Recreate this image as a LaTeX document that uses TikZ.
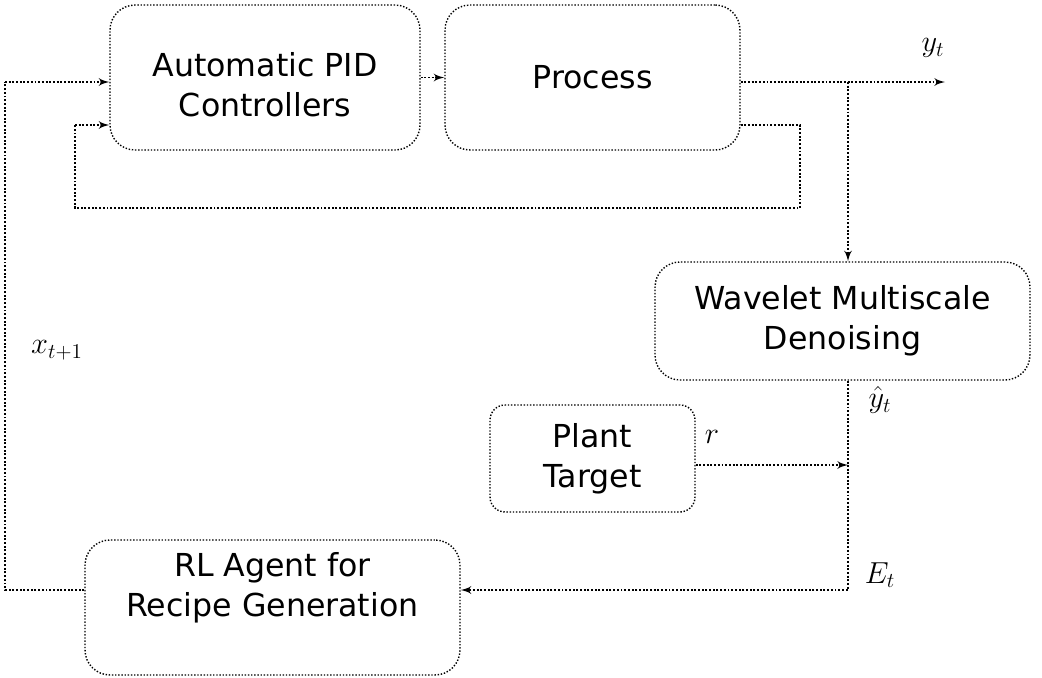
\documentclass[tikz,border=0pt]{standalone}
\usepackage{fontspec}
\setsansfont{DejaVu Sans}
\usetikzlibrary{arrows,positioning}
\tikzset{
  block/.style={
      rectangle, draw, densely dotted, thick,
      align=center, rounded corners=5mm,
  },
  line/.style={
    draw, densely dotted, line width=1.1pt, -latex',
  },
  wire/.style={
    draw, densely dotted, line width=1.1pt,
  }
}

\begin{document}
\begin{tikzpicture}[x=0.02cm,y=-0.02cm,font=\sffamily\fontsize{18}{22.8}\selectfont]
\useasboundingbox (0,0) rectangle (1042,677);
\node [block, minimum width=6.2cm, minimum height=2.9cm] (pid) at (265,77.5) {};
\node [align=center] (pidtext) at (265,85) {Automatic PID\\Controllers};
\node [block, minimum width=5.9cm, minimum height=2.9cm] (process) at (592.5,77.5) {Process};
\node [block, minimum width=7.5cm, minimum height=2.36cm] (wavelet) at (842.5,321) {Wavelet Multiscale\\Denoising};
\node [block, minimum width=4.1cm, minimum height=2.14cm, rounded corners=3mm] (target) at (592.5,458.5) {Plant\\Target};
\node [block, minimum width=7.5cm, minimum height=2.7cm] (agent) at (272.5,607.5) {};
\node [align=center] (agenttext) at (272.5,588) {RL Agent for\\Recipe Generation};

\coordinate (out) at (945,82);
\coordinate (branch) at (848,82);
\coordinate (sum) at (848,465);
\coordinate (fbA) at (800,125);
\coordinate (fbB) at (800,208);
\coordinate (fbC) at (75,208);
\coordinate (fbD) at (75,125);
\coordinate (outer) at (5,590);

\draw [line] (pid) -- (process);
\draw [line] (process.east |- out) -- (out);
\draw [line] (branch) -- (branch |- wavelet.north);
\draw [wire] (process.east |- fbA) -- (fbA) -- (fbB) -- (fbC) -- (fbD);
\draw [line] (fbD) -- (pid.west |- fbD);
\draw [wire] (agent.west |- outer) -- (outer) -- (outer |- out);
\draw [line] (outer |- out) -- (pid.west |- out);
\draw [wire] (branch |- wavelet.south) -- (sum);
\draw [line] (target.east |- sum) -- (sum);
\draw [line] (sum) |- (agent.east |- outer);

\node (yt) at (933,48) {$y_t$};
\node (yhat) at (880,400) {$\hat{y}_t$};
\node (ref) at (712,437) {$r$};
\node (err) at (880,575) {$E_t$};
\node (xnext) at (57,350) {$x_{t+1}$};
\end{tikzpicture}
\end{document}
